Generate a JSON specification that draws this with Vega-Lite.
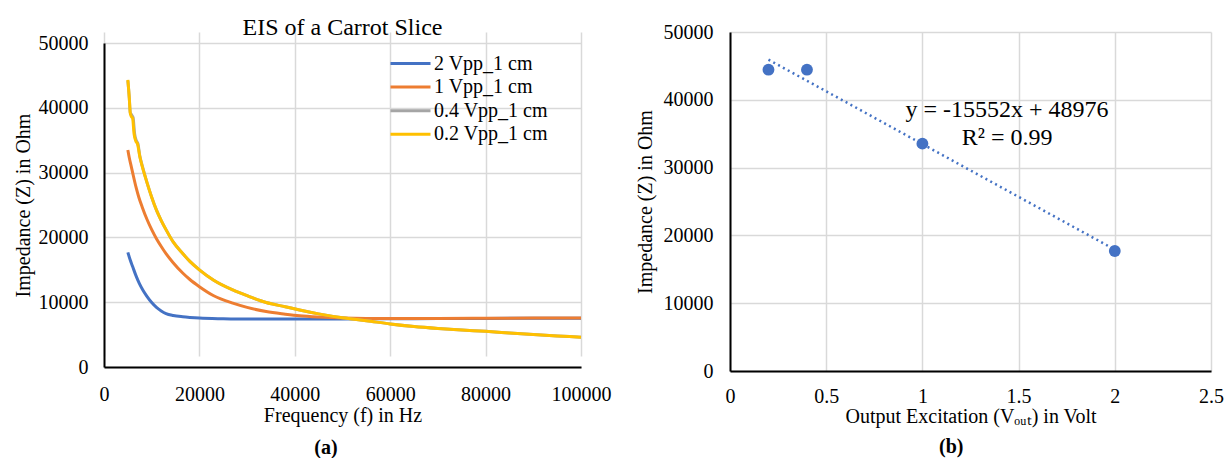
{
  "$schema": "https://vega.github.io/schema/vega-lite/v6.json",
  "background": "white",
  "padding": {"left": 13, "top": 16, "right": 1, "bottom": 0},
  "spacing": 24,
  "resolve": {"scale": {"color": "independent"}, "legend": {"color": "independent"}},
  "config": {
    "font": "Liberation Serif",
    "view": {"stroke": null},
    "axis": {
      "labelFont": "Liberation Serif",
      "titleFont": "Liberation Serif",
      "labelFontSize": 20,
      "titleFontSize": 20,
      "labelColor": "#000000",
      "titleColor": "#000000",
      "titleFontWeight": "normal",
      "gridColor": "#D9D9D9",
      "gridWidth": 1.5,
      "ticks": false,
      "domainColor": "#000000",
      "domainWidth": 2
    },
    "title": {"font": "Liberation Serif", "fontWeight": "normal", "color": "#000000"}
  },
  "hconcat": [
    {
      "title": {"text": "(a)", "orient": "bottom", "anchor": "middle", "fontSize": 20, "fontWeight": "bold", "offset": 13, "dx": 14},
      "resolve": {"scale": {"color": "independent"}, "legend": {"color": "independent"}},
      "vconcat": [
        {
          "width": 477,
          "height": 335,
          "title": {"text": "EIS of a Carrot Slice", "fontSize": 24, "offset": -8, "anchor": "middle"},
          "data": {"values": [
            {"series": "2 Vpp_1 cm", "f": 5000, "z": 17700},
            {"series": "2 Vpp_1 cm", "f": 5500, "z": 16500},
            {"series": "2 Vpp_1 cm", "f": 6000, "z": 15500},
            {"series": "2 Vpp_1 cm", "f": 6700, "z": 14100},
            {"series": "2 Vpp_1 cm", "f": 7400, "z": 12900},
            {"series": "2 Vpp_1 cm", "f": 8200, "z": 11800},
            {"series": "2 Vpp_1 cm", "f": 9000, "z": 10900},
            {"series": "2 Vpp_1 cm", "f": 10000, "z": 9950},
            {"series": "2 Vpp_1 cm", "f": 11000, "z": 9200},
            {"series": "2 Vpp_1 cm", "f": 12000, "z": 8650},
            {"series": "2 Vpp_1 cm", "f": 13000, "z": 8250},
            {"series": "2 Vpp_1 cm", "f": 14500, "z": 7950},
            {"series": "2 Vpp_1 cm", "f": 16500, "z": 7750},
            {"series": "2 Vpp_1 cm", "f": 18000, "z": 7650},
            {"series": "2 Vpp_1 cm", "f": 20000, "z": 7550},
            {"series": "2 Vpp_1 cm", "f": 25000, "z": 7450},
            {"series": "2 Vpp_1 cm", "f": 30000, "z": 7400},
            {"series": "2 Vpp_1 cm", "f": 40000, "z": 7400},
            {"series": "2 Vpp_1 cm", "f": 50000, "z": 7420},
            {"series": "2 Vpp_1 cm", "f": 60000, "z": 7450},
            {"series": "2 Vpp_1 cm", "f": 70000, "z": 7470},
            {"series": "2 Vpp_1 cm", "f": 80000, "z": 7500},
            {"series": "2 Vpp_1 cm", "f": 90000, "z": 7520},
            {"series": "2 Vpp_1 cm", "f": 100000, "z": 7540},
            {"series": "1 Vpp_1 cm", "f": 5000, "z": 33500},
            {"series": "1 Vpp_1 cm", "f": 5300, "z": 32300},
            {"series": "1 Vpp_1 cm", "f": 5600, "z": 31300},
            {"series": "1 Vpp_1 cm", "f": 6000, "z": 30000},
            {"series": "1 Vpp_1 cm", "f": 6700, "z": 27800},
            {"series": "1 Vpp_1 cm", "f": 7300, "z": 26200},
            {"series": "1 Vpp_1 cm", "f": 8000, "z": 24700},
            {"series": "1 Vpp_1 cm", "f": 9000, "z": 22800},
            {"series": "1 Vpp_1 cm", "f": 10000, "z": 21200},
            {"series": "1 Vpp_1 cm", "f": 11000, "z": 19800},
            {"series": "1 Vpp_1 cm", "f": 12000, "z": 18600},
            {"series": "1 Vpp_1 cm", "f": 13000, "z": 17500},
            {"series": "1 Vpp_1 cm", "f": 14500, "z": 16100},
            {"series": "1 Vpp_1 cm", "f": 16500, "z": 14500},
            {"series": "1 Vpp_1 cm", "f": 18000, "z": 13500},
            {"series": "1 Vpp_1 cm", "f": 20000, "z": 12400},
            {"series": "1 Vpp_1 cm", "f": 23000, "z": 11000},
            {"series": "1 Vpp_1 cm", "f": 27000, "z": 9850},
            {"series": "1 Vpp_1 cm", "f": 30000, "z": 9200},
            {"series": "1 Vpp_1 cm", "f": 34000, "z": 8550},
            {"series": "1 Vpp_1 cm", "f": 38000, "z": 8150},
            {"series": "1 Vpp_1 cm", "f": 41000, "z": 7900},
            {"series": "1 Vpp_1 cm", "f": 45000, "z": 7700},
            {"series": "1 Vpp_1 cm", "f": 50000, "z": 7550},
            {"series": "1 Vpp_1 cm", "f": 55000, "z": 7500},
            {"series": "1 Vpp_1 cm", "f": 60000, "z": 7500},
            {"series": "1 Vpp_1 cm", "f": 70000, "z": 7500},
            {"series": "1 Vpp_1 cm", "f": 80000, "z": 7520},
            {"series": "1 Vpp_1 cm", "f": 90000, "z": 7550},
            {"series": "1 Vpp_1 cm", "f": 100000, "z": 7560},
            {"series": "0.4 Vpp_1 cm", "f": 5000, "z": 44200},
            {"series": "0.4 Vpp_1 cm", "f": 5300, "z": 41600},
            {"series": "0.4 Vpp_1 cm", "f": 5500, "z": 39300},
            {"series": "0.4 Vpp_1 cm", "f": 5800, "z": 38900},
            {"series": "0.4 Vpp_1 cm", "f": 6100, "z": 38500},
            {"series": "0.4 Vpp_1 cm", "f": 6400, "z": 36100},
            {"series": "0.4 Vpp_1 cm", "f": 6800, "z": 34900},
            {"series": "0.4 Vpp_1 cm", "f": 7100, "z": 34500},
            {"series": "0.4 Vpp_1 cm", "f": 7500, "z": 32600},
            {"series": "0.4 Vpp_1 cm", "f": 8000, "z": 31100},
            {"series": "0.4 Vpp_1 cm", "f": 9000, "z": 28500},
            {"series": "0.4 Vpp_1 cm", "f": 10000, "z": 26200},
            {"series": "0.4 Vpp_1 cm", "f": 11000, "z": 24200},
            {"series": "0.4 Vpp_1 cm", "f": 12000, "z": 22600},
            {"series": "0.4 Vpp_1 cm", "f": 13000, "z": 21200},
            {"series": "0.4 Vpp_1 cm", "f": 14500, "z": 19300},
            {"series": "0.4 Vpp_1 cm", "f": 16500, "z": 17500},
            {"series": "0.4 Vpp_1 cm", "f": 18000, "z": 16300},
            {"series": "0.4 Vpp_1 cm", "f": 20000, "z": 15000},
            {"series": "0.4 Vpp_1 cm", "f": 23000, "z": 13400},
            {"series": "0.4 Vpp_1 cm", "f": 27000, "z": 11900},
            {"series": "0.4 Vpp_1 cm", "f": 30000, "z": 11000},
            {"series": "0.4 Vpp_1 cm", "f": 34000, "z": 9950},
            {"series": "0.4 Vpp_1 cm", "f": 38000, "z": 9300},
            {"series": "0.4 Vpp_1 cm", "f": 41000, "z": 8800},
            {"series": "0.4 Vpp_1 cm", "f": 45000, "z": 8200},
            {"series": "0.4 Vpp_1 cm", "f": 50000, "z": 7600},
            {"series": "0.4 Vpp_1 cm", "f": 55000, "z": 7150},
            {"series": "0.4 Vpp_1 cm", "f": 60000, "z": 6650},
            {"series": "0.4 Vpp_1 cm", "f": 65000, "z": 6250},
            {"series": "0.4 Vpp_1 cm", "f": 70000, "z": 5950},
            {"series": "0.4 Vpp_1 cm", "f": 75000, "z": 5700},
            {"series": "0.4 Vpp_1 cm", "f": 80000, "z": 5500},
            {"series": "0.4 Vpp_1 cm", "f": 85000, "z": 5250},
            {"series": "0.4 Vpp_1 cm", "f": 90000, "z": 5000},
            {"series": "0.4 Vpp_1 cm", "f": 95000, "z": 4800},
            {"series": "0.4 Vpp_1 cm", "f": 100000, "z": 4600},
            {"series": "0.2 Vpp_1 cm", "f": 5000, "z": 44300},
            {"series": "0.2 Vpp_1 cm", "f": 5300, "z": 41500},
            {"series": "0.2 Vpp_1 cm", "f": 5500, "z": 39200},
            {"series": "0.2 Vpp_1 cm", "f": 5700, "z": 38700},
            {"series": "0.2 Vpp_1 cm", "f": 6000, "z": 38400},
            {"series": "0.2 Vpp_1 cm", "f": 6300, "z": 36000},
            {"series": "0.2 Vpp_1 cm", "f": 6700, "z": 34800},
            {"series": "0.2 Vpp_1 cm", "f": 7000, "z": 34500},
            {"series": "0.2 Vpp_1 cm", "f": 7500, "z": 32500},
            {"series": "0.2 Vpp_1 cm", "f": 8000, "z": 31000},
            {"series": "0.2 Vpp_1 cm", "f": 9000, "z": 28500},
            {"series": "0.2 Vpp_1 cm", "f": 10000, "z": 26200},
            {"series": "0.2 Vpp_1 cm", "f": 11000, "z": 24200},
            {"series": "0.2 Vpp_1 cm", "f": 12000, "z": 22600},
            {"series": "0.2 Vpp_1 cm", "f": 13000, "z": 21200},
            {"series": "0.2 Vpp_1 cm", "f": 14500, "z": 19300},
            {"series": "0.2 Vpp_1 cm", "f": 16500, "z": 17500},
            {"series": "0.2 Vpp_1 cm", "f": 18000, "z": 16300},
            {"series": "0.2 Vpp_1 cm", "f": 20000, "z": 15000},
            {"series": "0.2 Vpp_1 cm", "f": 23000, "z": 13400},
            {"series": "0.2 Vpp_1 cm", "f": 27000, "z": 11900},
            {"series": "0.2 Vpp_1 cm", "f": 30000, "z": 11000},
            {"series": "0.2 Vpp_1 cm", "f": 34000, "z": 9950},
            {"series": "0.2 Vpp_1 cm", "f": 38000, "z": 9300},
            {"series": "0.2 Vpp_1 cm", "f": 41000, "z": 8800},
            {"series": "0.2 Vpp_1 cm", "f": 45000, "z": 8200},
            {"series": "0.2 Vpp_1 cm", "f": 50000, "z": 7600},
            {"series": "0.2 Vpp_1 cm", "f": 55000, "z": 7150},
            {"series": "0.2 Vpp_1 cm", "f": 60000, "z": 6650},
            {"series": "0.2 Vpp_1 cm", "f": 65000, "z": 6250},
            {"series": "0.2 Vpp_1 cm", "f": 70000, "z": 5950},
            {"series": "0.2 Vpp_1 cm", "f": 75000, "z": 5700},
            {"series": "0.2 Vpp_1 cm", "f": 80000, "z": 5500},
            {"series": "0.2 Vpp_1 cm", "f": 85000, "z": 5250},
            {"series": "0.2 Vpp_1 cm", "f": 90000, "z": 5000},
            {"series": "0.2 Vpp_1 cm", "f": 95000, "z": 4800},
            {"series": "0.2 Vpp_1 cm", "f": 100000, "z": 4600}
          ]},
          "mark": {"type": "line", "strokeWidth": 3, "interpolate": "monotone"},
          "encoding": {
            "x": {
              "field": "f", "type": "quantitative",
              "scale": {"domain": [0, 100000], "nice": false},
              "axis": {"title": "Frequency (f) in Hz", "values": [0, 20000, 40000, 60000, 80000, 100000], "format": "d", "labelFlush": false, "labelPadding": 17, "titlePadding": 1}
            },
            "y": {
              "field": "z", "type": "quantitative",
              "scale": {"domain": [0, 50000], "nice": false, "range": [335, 11]},
              "axis": {"title": "Impedance  (Z) in Ohm", "values": [0, 10000, 20000, 30000, 40000, 50000], "format": "d", "labelPadding": 16, "titlePadding": 5}
            },
            "color": {
              "field": "series", "type": "nominal",
              "scale": {"domain": ["2 Vpp_1 cm", "1 Vpp_1 cm", "0.4 Vpp_1 cm", "0.2 Vpp_1 cm"], "range": ["#4472C4", "#ED7D31", "#A5A5A5", "#FFC000"]},
              "legend": {"title": null, "orient": "none", "legendX": 295, "legendY": 20, "symbolType": "M-2,0H2", "symbolSize": 400, "symbolStrokeWidth": 3, "symbolFillColor": "transparent", "labelFont": "Liberation Serif", "labelFontSize": 20, "labelColor": "#000000", "rowPadding": 1.6, "labelOffset": 12}
            }
          }
        }
      ]
    },
    {
      "title": {"text": "(b)", "orient": "bottom", "anchor": "middle", "fontSize": 20, "fontWeight": "bold", "offset": 11, "dx": 22},
      "vconcat": [
        {
          "width": 481,
          "height": 339,
          "data": {"values": [
            {"vout": 0.2, "z": 44440},
            {"vout": 0.4, "z": 44440},
            {"vout": 1, "z": 33530},
            {"vout": 2, "z": 17700}
          ]},
          "encoding": {
            "x": {
              "field": "vout", "type": "quantitative",
              "scale": {"domain": [0, 2.5], "nice": false},
              "axis": {"title": "Output Excitation (Vₒᵤₜ) in Volt", "values": [0, 0.5, 1, 1.5, 2, 2.5], "format": "~g", "labelFlush": false, "labelPadding": 15, "titlePadding": 0}
            },
            "y": {
              "field": "z", "type": "quantitative",
              "scale": {"domain": [0, 50000], "nice": false},
              "axis": {"title": "Impedance  (Z) in Ohm", "values": [0, 10000, 20000, 30000, 40000, 50000], "format": "d", "labelPadding": 17, "titlePadding": 8}
            }
          },
          "layer": [
            {
              "transform": [{"regression": "z", "on": "vout"}],
              "mark": {"type": "line", "color": "#4472C4", "strokeWidth": 2.5, "strokeDash": [2, 3.5]}
            },
            {
              "mark": {"type": "point", "filled": true, "opacity": 1, "color": "#4472C4", "size": 140}
            },
            {
              "data": {"values": [
                {"vout": 1.44, "z": 38450, "label": "y = -15552x  + 48976"},
                {"vout": 1.44, "z": 34330, "label": "R² = 0.99"}
              ]},
              "mark": {"type": "text", "font": "Liberation Serif", "fontSize": 24, "color": "#000000", "baseline": "middle", "align": "center"},
              "encoding": {"text": {"field": "label", "type": "nominal"}}
            }
          ]
        }
      ]
    }
  ]
}
